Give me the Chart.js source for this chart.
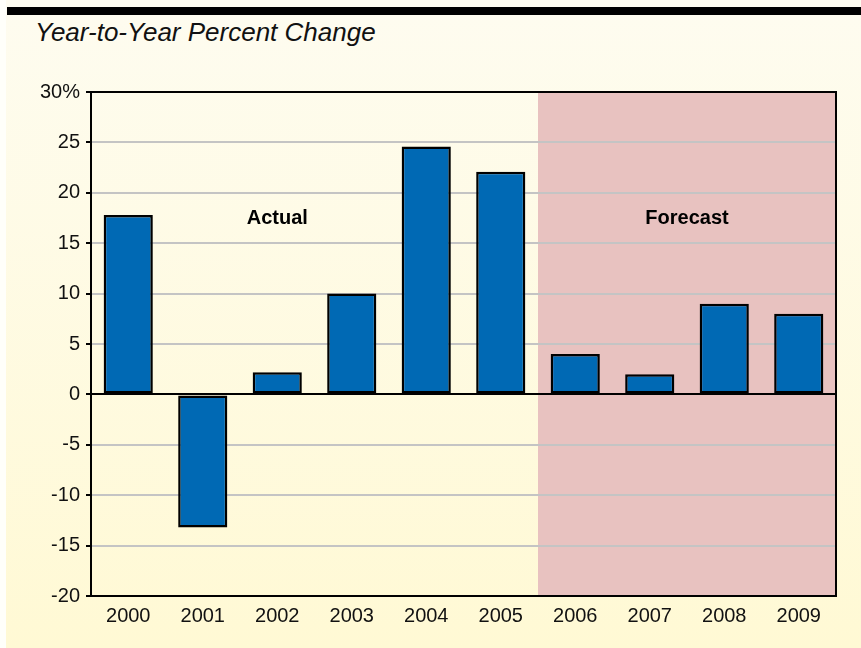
<!DOCTYPE html>
<html>
<head>
<meta charset="utf-8">
<script src="https://cdn.jsdelivr.net/npm/chart.js@4"></script>
<style>
  html, body { margin: 0; padding: 0; }
  body { width: 861px; height: 648px; position: relative; overflow: hidden; background: #fffffa; }
  .panel { position: absolute; left: 6px; top: 0; right: 0; bottom: 0; background: linear-gradient(#fefcf0, #fff9d4); }
  .bar { position: absolute; left: 7px; right: 0; top: 7px; height: 8px; background: #000; }
  .title { position: absolute; left: 35px; top: 17px; font: italic 26px "Liberation Sans", Arial, sans-serif; color: #111; }
  canvas { position: absolute; left: 0; top: 0; }
</style>
</head>
<body>
<div class="panel"></div>
<div class="bar"></div>
<div class="title">Year-to-Year Percent Change</div>
<canvas id="chart" width="861" height="648"></canvas>
<script>
const years = ['2000', '2001', '2002', '2003', '2004', '2005', '2006', '2007', '2008', '2009'];
const changes = [17.8, -13.2, 2.2, 10, 24.6, 22.1, 4, 2, 9, 8];
const firstForecast = 6;
const regionLabels = [
  { text: 'Actual', at: 2, y: 17.5 },
  { text: 'Forecast', at: 7.5, y: 17.5 }
];

const font = '"Liberation Sans", Arial, sans-serif';

const framePlugin = {
  id: 'frame',
  beforeDraw(chart) {
    const { ctx, chartArea: a, scales: { x } } = chart;
    const half = (x.getPixelForValue(1) - x.getPixelForValue(0)) / 2;
    const start = x.getPixelForValue(firstForecast) - half;
    ctx.save();
    ctx.fillStyle = '#e8c2c0';
    ctx.fillRect(start, a.top, a.right - start, a.bottom - a.top);
    ctx.restore();
  },
  afterDraw(chart) {
    const { ctx, chartArea: a, scales: { x, y } } = chart;
    ctx.save();
    ctx.strokeStyle = '#000';
    ctx.lineWidth = 2;
    ctx.strokeRect(a.left, a.top, a.right - a.left, a.bottom - a.top);
    ctx.fillStyle = '#000';
    ctx.font = 'bold 20px ' + font;
    ctx.textAlign = 'center';
    ctx.textBaseline = 'middle';
    regionLabels.forEach((l) => {
      const i = Math.floor(l.at);
      const px = x.getPixelForValue(i) + (l.at - i) * (x.getPixelForValue(1) - x.getPixelForValue(0));
      ctx.fillText(l.text, px, y.getPixelForValue(l.y));
    });
    ctx.restore();
  }
};

new Chart(document.getElementById('chart'), {
  type: 'bar',
  data: {
    labels: years,
    datasets: [{
      data: changes,
      backgroundColor: '#0069b4',
      borderColor: '#000',
      borderWidth: 2.5,
      borderSkipped: false,
      categoryPercentage: 1,
      barPercentage: 0.66
    }]
  },
  options: {
    responsive: false,
    animation: false,
    layout: { padding: { top: 92, left: 0, right: 25, bottom: 0 } },
    plugins: { legend: { display: false }, tooltip: { enabled: false } },
    scales: {
      x: {
        afterFit: (s) => { s.height = 52; },
        grid: { display: false, drawTicks: false },
        border: { color: '#000', width: 2 },
        ticks: { color: '#111', padding: 8, font: { family: font, size: 20 } }
      },
      y: {
        min: -20,
        max: 30,
        afterFit: (s) => { s.width = 91; },
        afterBuildTicks: (s) => { s.ticks = [-20, -15, -10, -5, 0, 5, 10, 15, 20, 25, 30].map((v) => ({ value: v })); },
        grid: {
          color: (c) => (c.tick && c.tick.value === 0 ? '#000' : '#c4c4c4'),
          lineWidth: 2,
          tickColor: '#000',
          tickLength: 5
        },
        border: { color: '#000', width: 2 },
        ticks: {
          color: '#111',
          padding: 6,
          font: { family: font, size: 20 },
          callback: (v) => (v === 30 ? '30%' : String(v))
        }
      }
    }
  },
  plugins: [framePlugin]
});
</script>
</body>
</html>
